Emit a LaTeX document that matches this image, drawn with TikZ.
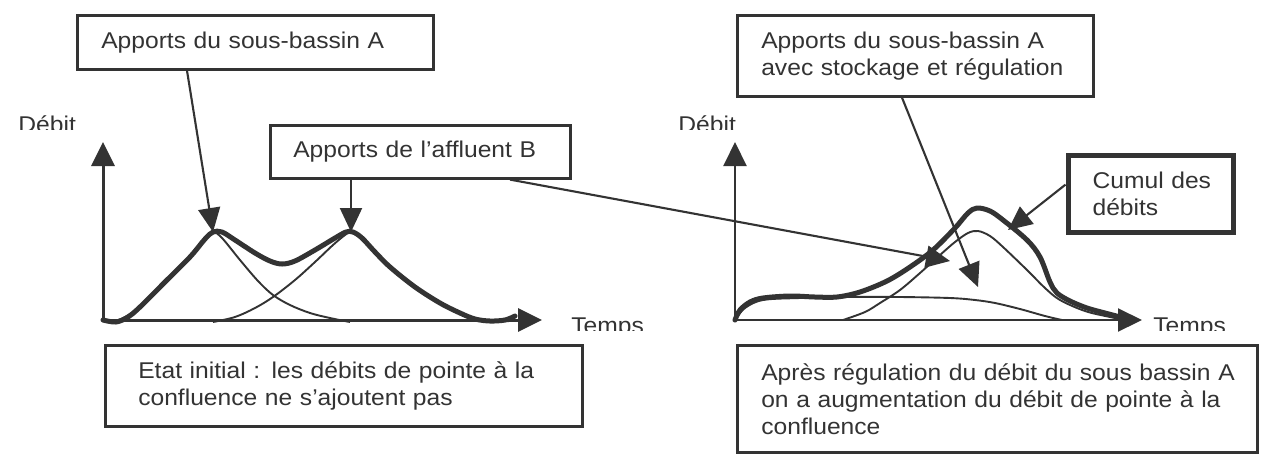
\documentclass[tikz,border=0pt]{standalone}
\usepackage{fontspec}
\setmainfont{Liberation Sans}[FakeStretch=1.08]
\usetikzlibrary{arrows.meta}
\definecolor{ink}{HTML}{333333}
\begin{document}
\begin{tikzpicture}[x=0.5pt,y=-0.5pt,
  every node/.style={text=ink, font=\fontsize{11.4pt}{13.5pt}\selectfont},
  box/.style={draw=ink, line width=1.3pt, rectangle, anchor=north west, align=left, inner ysep=0pt},
  cumulbox/.style={box, line width=2.6pt},
  conn/.style={draw=ink, line width=1.05pt, -{Triangle[length=12pt,width=11pt]}},
  axisline/.style={draw=ink, line width=1.5pt, -{Triangle[length=12pt,width=11.5pt]}},
  axislineR/.style={draw=ink, line width=1.05pt, -{Triangle[length=12pt,width=11.5pt]}},
  fine/.style={draw=ink, line width=0.95pt, line join=round},
  heavy/.style={draw=ink, line width=2.5pt, line join=round, line cap=round},
  lbl/.style={anchor=base west, inner sep=0pt}]
\fill[white] (0,0) rectangle (1270,468);
\useasboundingbox (0,0) rectangle (1270,468);

% ---------- boxes ----------
\node[box, minimum width=178pt, minimum height=27pt, text width=154pt, inner xsep=12pt] (a1) at (76,14) {\mbox{Apports du sous-bassin A}};
\node[box, minimum width=150pt, minimum height=26.5pt, text width=127pt, inner xsep=11.5pt] (b) at (269,124) {\mbox{Apports de l’affluent B}};
\node[box, minimum width=238.5pt, minimum height=40.5pt, text width=205.5pt, inner xsep=16.5pt] (bl) at (104,344) {\mbox{Etat initial : les débits de pointe à la}\\\mbox{confluence ne s’ajoutent pas}};
\node[box, minimum width=178pt, minimum height=40.5pt, text width=154pt, inner xsep=12pt] (a2) at (736,14) {\mbox{Apports du sous-bassin A}\\\mbox{avec stockage et régulation}};
\node[cumulbox, minimum width=82.5pt, minimum height=38.5pt, text width=58pt, inner xsep=12.25pt] (cumul) at (1065.5,152.5) {\mbox{Cumul des}\\\mbox{débits}};
\node[box, minimum width=260pt, minimum height=53.5pt, text width=236pt, inner xsep=12pt] (br) at (736,344) {\mbox{Après régulation du débit du sous bassin A}\\\mbox{on a augmentation du débit de pointe à la}\\\mbox{confluence}};

% ---------- axis labels (clipped at bottom as in the reference) ----------
\begin{scope}
\clip (0,100) rectangle (1270,129);
\node[lbl] (deb1) at (18,132) {Débit};
\node[lbl] (deb2) at (678,132) {Débit};
\end{scope}
\begin{scope}
\clip (0,300) rectangle (1270,330);
\node[lbl] (tps1) at (571,333) {Temps};
\node[lbl] (tps2) at (1153,333) {Temps};
\end{scope}

% ---------- left chart ----------
\coordinate (o1) at (103,320);
\coordinate (yt1) at (103,142);
\coordinate (xt1) at (542,320);
\draw[axisline] (o1) -- (yt1);
\draw[axisline] (o1) -- (xt1);

\draw[fine] plot[smooth, tension=0.55] coordinates {(105,320) (118,320) (130,314) (140,306) (165,281) (190,256) (205,238) (213,232) (222,238) (240,260) (258,281) (273,295) (290,305) (310,313) (330,318) (350,322)};
\draw[fine] plot[smooth, tension=0.55] coordinates {(213,322) (235,317) (255,308) (273,297) (295,280) (315,262) (333,245) (345,235) (351,232) (360,236) (375,252) (390,267) (415,287) (440,303) (460,313) (478,319) (495,321) (510,321) (518,320)};
\draw[heavy] plot[smooth, tension=0.55] coordinates {(103,320) (116,322) (128,317) (140,307) (165,282) (190,257) (205,239) (213,232) (222,232) (235,240) (255,253) (270,261) (282,264) (295,261) (315,250) (335,238) (346,232) (353,232) (362,238) (375,252) (390,267) (415,287) (440,303) (460,313) (475,319) (490,321) (505,320) (515,316)};

\coordinate (pk1) at (213,232);
\coordinate (pk2) at (351,232);
\draw[conn] ([xshift=55.5pt]a1.south west) -- (pk1);
\draw[conn] ([xshift=41pt]b.south west) -- (pk2);

% ---------- right chart ----------
\coordinate (o2) at (735,320);
\coordinate (yt2) at (735,142);
\coordinate (xt2) at (1142,320);
\draw[axislineR] (o2) -- (yt2);
\draw[axislineR] (o2) -- (xt2);

\draw[fine] plot[smooth, tension=0.55] coordinates {(735,320) (745,308) (763,300) (800,298) (850,297) (900,297) (950,298) (975,300) (995,303) (1020,309) (1045,316) (1062,320)};
\draw[fine] plot[smooth, tension=0.55] coordinates {(843,320) (865,312) (880,303) (900,290) (920,273) (940,255) (955,242) (968,233) (978,231) (990,236) (1003,247) (1027,270) (1045,288) (1060,300) (1085,311) (1110,317) (1125,320)};
\draw[heavy] plot[smooth, tension=0.55] coordinates {(735,320) (740,310) (750,302) (763,298) (790,296) (815,297) (837,297) (860,292) (887,281) (910,267) (933,250) (955,228) (968,213) (977,208) (990,211) (1003,220) (1027,240) (1040,257) (1050,282) (1057,293) (1070,301) (1087,308) (1105,313) (1128,319)};

\coordinate (tB) at (950,261);
\coordinate (tA) at (978,287);
\coordinate (tC) at (1008,230);
\draw[conn] ([xshift=120.5pt]b.south west) -- (tB);
\draw[conn] ([xshift=83pt]a2.south west) -- (tA);
\draw[conn] ([yshift=4.5pt]cumul.west) -- (tC);
\end{tikzpicture}
\end{document}
